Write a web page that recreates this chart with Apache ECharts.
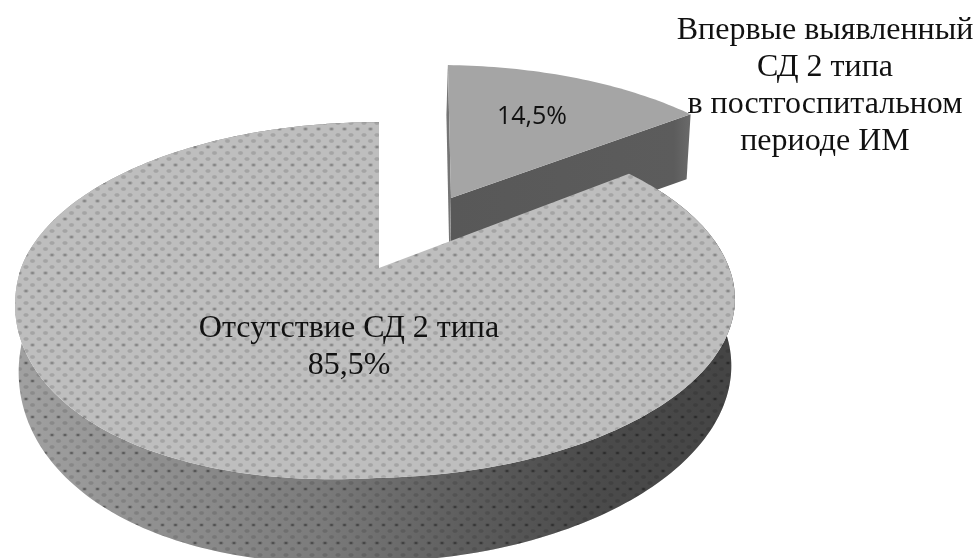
<!DOCTYPE html>
<html>
<head>
<meta charset="utf-8">
<style>html,body{margin:0;padding:0;background:#fff}#chart{width:976px;height:558px}</style>
<script src="https://cdn.jsdelivr.net/npm/echarts@6/dist/echarts.min.js"></script>
</head>
<body>
<div id="chart"></div>
<script>
// Diabetes status after myocardial infarction, percent of patients
const categories = ['Впервые выявленный\nСД 2 типа\nв постгоспитальном\nпериоде ИМ', 'Отсутствие СД 2 типа'];
const shares = [14.5, 85.5];
const shareLabels = ['14,5%', '85,5%'];

// Perspective of the tilted disc; sagL and sagR lower the front-left and front-right rim
const VIEW = { cx: 379, cy: 268, a: 354, b: 172, k: 0.18, m: 0.011, sagL: 25, sagR: 4 };
// Pulled-out slice: offset on the disc, then a small skew about its apex
const EXPLODE = { u: 0.22, v: -0.45, apex: [451, 198], xx: 1.041, xy: -0.06, yx: 0.006, yy: 1.055 };

function project(u, v) {
  const w = 1 - VIEW.k * v + VIEW.m * u;
  const front = Math.max(v, 0);
  const sag = u < 0 ? -VIEW.sagL * u * front : -VIEW.sagR * u * front;
  return [VIEW.cx + VIEW.a * u / w, VIEW.cy + VIEW.b * v / w + sag];
}
function rimPoint(theta) {
  return project(Math.sin(theta), -Math.cos(theta));
}
function pulledPoint(theta) {
  const e = EXPLODE;
  const base = project(e.u, e.v);
  const p = project(Math.sin(theta) + e.u, -Math.cos(theta) + e.v);
  const dx = p[0] - base[0], dy = p[1] - base[1];
  return [e.apex[0] + e.xx * dx + e.xy * dy, e.apex[1] + e.yx * dx + e.yy * dy];
}
function arc(from, to, pointAt) {
  const steps = Math.max(8, Math.ceil((to - from) / 0.02));
  const pts = [];
  for (let i = 0; i <= steps; i++) pts.push(pointAt(from + (to - from) * i / steps));
  return pts;
}

// Dotted fabric texture used on the large slice
function makeTile(base, soft, dark) {
  const c = document.createElement('canvas');
  c.width = 26; c.height = 36;
  const g = c.getContext('2d');
  g.fillStyle = base;
  g.fillRect(0, 0, 26, 36);
  const dot = (x, y, r, col) => {
    const grad = g.createRadialGradient(0, 0, 0, 0, 0, r);
    grad.addColorStop(0, col);
    grad.addColorStop(0.55, col);
    grad.addColorStop(1, base);
    g.save();
    g.translate(x, y);
    g.scale(1.15, 0.85);
    g.fillStyle = grad;
    g.beginPath();
    g.arc(0, 0, r, 0, Math.PI * 2);
    g.fill();
    g.restore();
  };
  for (let row = 0; row < 6; row++) {
    const y = 3 + row * 6;
    for (let col = -1; col < 3; col++) {
      const x = col * 13 + (row % 2 ? 6.5 : 0);
      dot(x, y, 2.8, soft);
      if (row % 3 === 0) {
        g.fillStyle = dark;
        g.beginPath();
        g.ellipse(x, y, 1.5, 0.9, 0, 0, Math.PI * 2);
        g.fill();
      }
    }
  }
  return c;
}
const faceTile = makeTile('#bebebe', '#a4a4a4', '#858585');
const wallTile = makeTile('#ababab', '#959595', '#666666');

const total = shares.reduce((s, v) => s + v, 0);

function wallDrop(p) {
  return 67 + 0.095 * (p[1] - 300);
}

function renderSlice(params, api) {
  const i = params.dataIndex;
  const value = api.value(0);
  const before = shares.slice(0, i).reduce((s, v) => s + v, 0);
  const from = before / total * Math.PI * 2;
  const to = from + value / total * Math.PI * 2;
  const children = [];
  const font = '32px "Liberation Serif"';

  if (i === 0) {
    // Pulled-out slice: flat shading with a dark cut wall
    const apex = EXPLODE.apex;
    const rim = arc(from, to, pulledPoint);
    const back = rim[0];
    const end = rim[rim.length - 1];
    const drop = 65;
    children.push({ type: 'polygon', shape: { points: [back, [back[0] - 1.5, back[1] + 50], [apex[0] - 1.5, apex[1] + drop], apex] }, style: { fill: '#757575' } });
    children.push({ type: 'polygon', shape: { points: [apex, end, [end[0] - 4, end[1] + drop], [apex[0] - 1, apex[1] + drop]] },
      style: { fill: { type: 'linear', x: apex[0], y: 0, x2: end[0], y2: 0, global: true, colorStops: [{ offset: 0, color: '#585858' }, { offset: 0.93, color: '#5c5c5c' }, { offset: 1, color: '#6a6a6a' }] } } });
    children.push({ type: 'polygon', shape: { points: [apex].concat(rim) }, style: { fill: '#a5a5a5' } });
    children.push({ type: 'text', style: { text: shareLabels[i], x: 532, y: 117, align: 'center', verticalAlign: 'middle', font: '25px "Open Sans"', fill: '#111' } });
    children.push({ type: 'text', style: { text: categories[i], x: 825, y: 86, align: 'center', verticalAlign: 'middle', font: font, lineHeight: 37, fill: '#111' } });
  } else {
    // Large slice: textured top over a shaded outer wall
    const rim = arc(from, to, rimPoint);
    const low = rim.map(p => [375 + (p[0] - 375) * 0.99, p[1] + wallDrop(p)]).reverse();
    const wall = rim.concat(low);
    children.push({ type: 'polygon', shape: { points: wall }, style: { fill: { image: wallTile, repeat: 'repeat' } } });
    children.push({ type: 'polygon', shape: { points: wall },
      style: { fill: { type: 'linear', x: 15, y: 0, x2: 735, y2: 0, global: true, colorStops: [
        { offset: 0, color: 'rgba(0,0,0,0.06)' }, { offset: 0.2, color: 'rgba(0,0,0,0.16)' },
        { offset: 0.42, color: 'rgba(0,0,0,0.28)' }, { offset: 0.62, color: 'rgba(0,0,0,0.45)' },
        { offset: 0.8, color: 'rgba(0,0,0,0.56)' }, { offset: 1, color: 'rgba(0,0,0,0.6)' }] } } });
    children.push({ type: 'polygon', shape: { points: [project(0, 0)].concat(rim) }, style: { fill: { image: faceTile, repeat: 'repeat' } } });
    children.push({ type: 'text', style: { text: categories[i] + '\n' + shareLabels[i], x: 349, y: 347, align: 'center', verticalAlign: 'middle', font: font, lineHeight: 37, fill: '#111' } });
  }
  return { type: 'group', children: children };
}

const chart = echarts.init(document.getElementById('chart'), null, { renderer: 'canvas' });
chart.setOption({
  animation: false,
  backgroundColor: '#ffffff',
  series: [{
    type: 'custom',
    coordinateSystem: 'none',
    renderItem: renderSlice,
    data: shares.map((v, i) => ({ name: categories[i], value: [v] }))
  }]
});
</script>
</body>
</html>
